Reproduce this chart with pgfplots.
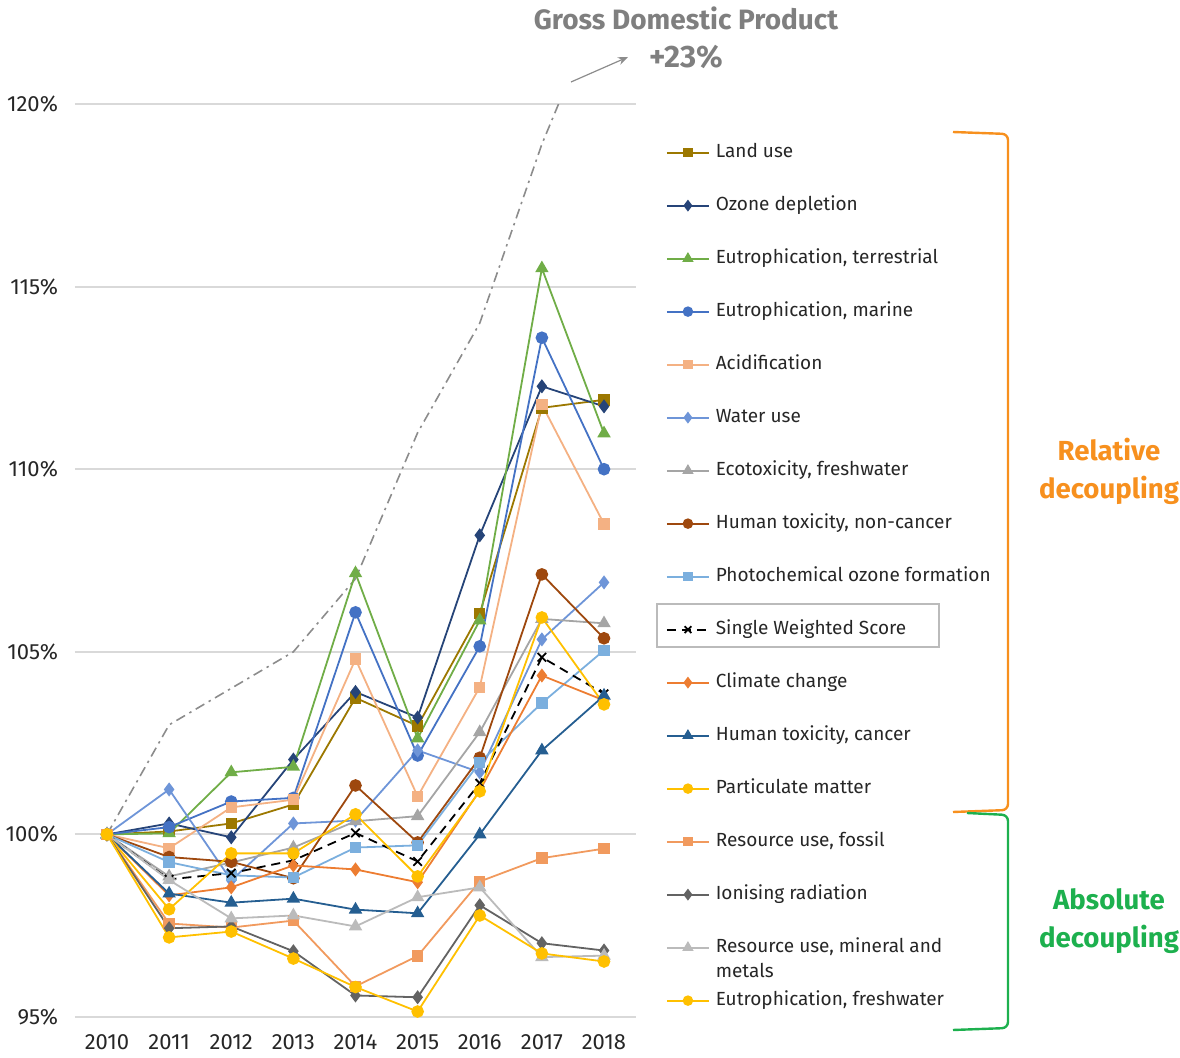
\documentclass[border=0pt]{standalone}
\usepackage{pgfplots}
\pgfplotsset{compat=1.18}
\usepackage{fontspec}
\setmainfont{Fira Sans}
\usetikzlibrary{arrows.meta}
\definecolor{cLand}{HTML}{9C7800}
\definecolor{cOzone}{HTML}{264478}
\definecolor{cEutT}{HTML}{70AD47}
\definecolor{cEutM}{HTML}{4472C4}
\definecolor{cAcid}{HTML}{F4B183}
\definecolor{cWater}{HTML}{6E95D8}
\definecolor{cEco}{HTML}{A5A5A5}
\definecolor{cHTnc}{HTML}{9E480E}
\definecolor{cPhoto}{HTML}{7BAFDE}
\definecolor{cClim}{HTML}{ED7D31}
\definecolor{cHTc}{HTML}{255E91}
\definecolor{cPM}{HTML}{FFC000}
\definecolor{cFoss}{HTML}{F19A5E}
\definecolor{cIon}{HTML}{636363}
\definecolor{cMin}{HTML}{BBBBBB}
\definecolor{cGDP}{HTML}{8C8C8C}
\definecolor{cGrid}{HTML}{D9D9D9}
\definecolor{cRel}{HTML}{F7901E}
\definecolor{cAbs}{HTML}{1DB04E}
\definecolor{cTxt}{HTML}{262626}
\definecolor{cTitle}{HTML}{7F7F7F}

\pgfplotstableread{
year land ozone eutT eutM acid water eco htnc photo sws clim htc pm foss ion mine eutF gdp
2010 100 100 100 100 100 100 100 100 100 100 100 100 100 100 100 100 100 100
2011 100.08 100.30 100.03 100.20 99.62 101.23 98.85 99.38 99.24 98.77 98.33 98.38 97.95 97.56 97.43 98.75 97.18 103.0
2012 100.30 99.92 101.70 100.90 100.74 98.74 99.23 99.25 98.88 98.94 98.55 98.13 99.48 97.45 97.48 97.70 97.34 104.0
2013 100.82 102.05 101.85 101.00 100.95 100.30 99.64 98.80 98.82 99.29 99.15 98.24 99.48 97.64 96.80 97.78 96.60 105.0
2014 103.74 103.90 107.15 106.08 104.80 100.38 100.36 101.34 99.64 100.04 99.04 97.94 100.55 95.84 95.59 97.48 95.82 107.0
2015 102.97 103.20 102.63 102.16 101.04 102.30 100.50 99.78 99.70 99.26 98.69 97.84 98.85 96.67 95.54 98.28 95.15 111.0
2016 106.05 108.19 105.86 105.15 104.03 101.70 102.80 102.10 101.97 101.40 101.20 100.00 101.18 98.71 98.06 98.55 97.78 114.0
2017 111.68 112.27 115.50 113.60 111.77 105.34 105.90 107.12 103.60 104.85 104.35 102.30 105.94 99.35 97.02 96.64 96.74 118.9
2018 111.90 111.72 110.98 110.00 108.50 106.90 105.78 105.37 105.04 103.85 103.67 103.80 103.56 99.61 96.82 96.68 96.52 123.0
}\data

\begin{document}
\begin{tikzpicture}[x=1pt,y=1pt]
\useasboundingbox (-37.5,-20) rectangle (552.5,508.5);
\begin{axis}[
  at={(0,0)}, anchor=south west,
  scale only axis, width=280.5pt, height=456.5pt,
  xmin=2009.485, xmax=2018.515,
  ymin=95, ymax=120,
  xtick={2010,...,2018},
  xticklabels={2010,2011,2012,2013,2014,2015,2016,2017,2018},
  ytick={95,100,105,110,115,120},
  yticklabels={95\%,100\%,105\%,110\%,115\%,120\%},
  ymajorgrids, major grid style={draw=cGrid, line width=1pt},
  axis line style={draw=none},
  tick style={draw=none},
  tick label style={font=\fontsize{11}{13}\selectfont, text=cTxt},
  xticklabel style={yshift=-5pt},
  yticklabel style={xshift=-5pt},
  /pgf/number format/assume math mode=true,
  every axis plot/.append style={line width=0.9pt},
  legend cell align=left,
  legend style={draw=none, fill=none, inner sep=0pt, outer sep=0pt,
    at={(axis description cs:1.0535,0.9566)}, anchor=north west,
    row sep=17.5pt, column sep=3pt,
    font=\fontsize{9.5}{12.5}\selectfont, text=cTxt,
    nodes={inner sep=0pt, text height=7pt, text depth=2pt}},
  legend image code/.code={
    \draw[#1] (0pt,0pt) -- (21pt,0pt);
    \draw[#1, every mark/.append style={scale=0.8}] plot coordinates {(10.5pt,0pt)};
  },
]
\addplot[cGDP, line width=0.8pt, dash pattern=on 5pt off 2.5pt on 1.2pt off 2.5pt, forget plot] table[x=year,y=gdp] {\data};
\addplot[cLand, mark=square*, mark size=2.4pt] table[x=year,y=land] {\data};
\addlegendentry{Land use}
\addplot[cOzone, mark=diamond*, mark size=2.8pt] table[x=year,y=ozone] {\data};
\addlegendentry{Ozone depletion}
\addplot[cEutT, mark=triangle*, mark size=3pt] table[x=year,y=eutT] {\data};
\addlegendentry{Eutrophication, terrestrial}
\addplot[cEutM, mark=*, mark size=2.7pt] table[x=year,y=eutM] {\data};
\addlegendentry{Eutrophication, marine}
\addplot[cAcid, mark=square*, mark size=2.4pt] table[x=year,y=acid] {\data};
\addlegendentry{Acidification}
\addplot[cWater, mark=diamond*, mark size=2.8pt] table[x=year,y=water] {\data};
\addlegendentry{Water use}
\addplot[cEco, mark=triangle*, mark size=3pt] table[x=year,y=eco] {\data};
\addlegendentry{Ecotoxicity, freshwater}
\addplot[cHTnc, mark=*, mark size=2.7pt] table[x=year,y=htnc] {\data};
\addlegendentry{Human toxicity, non-cancer}
\addplot[cPhoto, mark=square*, mark size=2.4pt] table[x=year,y=photo] {\data};
\addlegendentry{Photochemical ozone formation}
\addplot[black, dash pattern=on 4.5pt off 3pt, mark=x, mark size=3pt, mark options={solid}] table[x=year,y=sws] {\data};
\addlegendentry{Single Weighted Score}
\addplot[cClim, mark=diamond*, mark size=2.8pt] table[x=year,y=clim] {\data};
\addlegendentry{Climate change}
\addplot[cHTc, mark=triangle*, mark size=3pt] table[x=year,y=htc] {\data};
\addlegendentry{Human toxicity, cancer}
\addplot[cPM, mark=*, mark size=2.7pt] table[x=year,y=pm] {\data};
\addlegendentry{Particulate matter}
\addplot[cFoss, mark=square*, mark size=2.4pt] table[x=year,y=foss] {\data};
\addlegendentry{Resource use, fossil}
\addplot[cIon, mark=diamond*, mark size=2.8pt] table[x=year,y=ion] {\data};
\addlegendentry{Ionising radiation}
\addplot[cMin, mark=triangle*, mark size=3pt] table[x=year,y=mine] {\data};
\addlegendentry{\parbox[t]{130pt}{Resource use, mineral and\\metals}}
\addplot[cPM, mark=*, mark size=2.7pt] table[x=year,y=eutF] {\data};
\addlegendentry{Eutrophication, freshwater}
\end{axis}
% box around SWS legend entry
\draw[cMin, line width=0.6pt] (291,185) rectangle (432,206.5);
% GDP annotation
\draw[cGDP, line width=0.6pt, -{Stealth[length=5pt,width=4pt]}] (248,467.5) -- (276.5,480);
\node[font=\fontsize{14}{16}\selectfont\bfseries, text=cTitle] at (305.5,499.5) {Gross Domestic Product};
\node[font=\fontsize{15.5}{17}\selectfont\bfseries, text=cTitle] at (305.5,480) {+23\%};
% braces
\draw[cRel, line width=1.2pt, rounded corners=3pt] (439,442.5) -- (466.5,441.5) -- (466.5,103.5) -- (439,102.5);
\draw[cAbs, line width=1.2pt, rounded corners=3pt] (446,102) -- (466.5,101) -- (466.5,-5.5) -- (439,-6.5);
\node[font=\fontsize{13.8}{19}\selectfont\bfseries, text=cRel, align=center] at (517,273) {Relative\\decoupling};
\node[font=\fontsize{13.8}{19}\selectfont\bfseries, text=cAbs, align=center] at (517,48) {Absolute\\decoupling};
\end{tikzpicture}
\end{document}
